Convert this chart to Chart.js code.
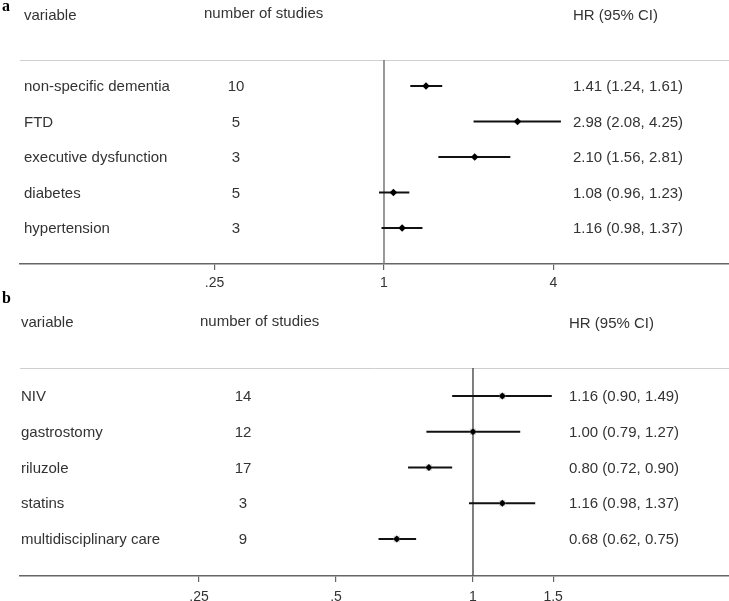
<!DOCTYPE html>
<html>
<head>
<meta charset="utf-8">
<script src="https://cdn.jsdelivr.net/npm/chart.js@4.4.1/dist/chart.umd.min.js"></script>
<style>
  html, body { margin: 0; padding: 0; background: #fff; }
  #wrap { position: relative; width: 729px; height: 601px; }
  canvas { position: absolute; left: 0; top: 0; }
</style>
</head>
<body>
<div id="wrap">
  <canvas id="chartA" width="729" height="601"></canvas>
  <canvas id="chartB" width="729" height="601"></canvas>
</div>
<script>
// ---- Panel a data ----
const variablesA = ['non-specific dementia', 'FTD', 'executive dysfunction', 'diabetes', 'hypertension'];
const studiesA = [10, 5, 3, 5, 3];
const hrA = [1.41, 2.98, 2.10, 1.08, 1.16];
const lowA = [1.24, 2.08, 1.56, 0.96, 0.98];
const highA = [1.61, 4.25, 2.81, 1.23, 1.37];
const tickValsA = [0.25, 1, 4];
const tickLabelsA = ['.25', '1', '4'];

// ---- Panel b data ----
const variablesB = ['NIV', 'gastrostomy', 'riluzole', 'statins', 'multidisciplinary care'];
const studiesB = [14, 12, 17, 3, 9];
const hrB = [1.16, 1.00, 0.80, 1.16, 0.68];
const lowB = [0.90, 0.79, 0.72, 0.98, 0.62];
const highB = [1.49, 1.27, 0.90, 1.37, 0.75];
const tickValsB = [0.25, 0.5, 1, 1.5];
const tickLabelsB = ['.25', '.5', '1', '1.5'];

const headers = ['variable', 'number of studies', 'HR (95% CI)'];

const FONT = '"Liberation Sans", Arial, sans-serif';
const TEXT = '#333';

function fmt(v) { return v.toFixed(2); }

function makeForest(id, o) {
  const datasets = [];
  datasets.push({
    type: 'scatter',
    data: o.hr.map((v, i) => ({ x: v, y: i })),
    pointStyle: 'rectRot',
    pointRadius: o.pointRadius,
    backgroundColor: '#000',
    borderColor: '#000',
    borderWidth: 0,
    order: 0
  });
  if (o.boxes) {
    datasets.push({
      type: 'scatter',
      data: o.hr.map((v, i) => ({ x: v, y: i })),
      pointStyle: 'rect',
      pointRadius: 4.5,
      backgroundColor: '#d6d6d6',
      borderWidth: 0,
      order: 1
    });
  }
  o.low.forEach((lo, i) => {
    datasets.push({
      type: 'line',
      data: [{ x: lo, y: i }, { x: o.high[i], y: i }],
      borderColor: '#111',
      borderWidth: 2,
      pointRadius: 0,
      fill: false,
      order: 2
    });
  });

  const textPlugin = {
    id: 'forestText_' + id,
    beforeDatasetsDraw(chart) {
      const ctx = chart.ctx, ca = chart.chartArea, xs = chart.scales.x;
      ctx.save();
      // separator line
      ctx.strokeStyle = '#cfcfcf';
      ctx.lineWidth = 1;
      ctx.beginPath();
      ctx.moveTo(ca.left, ca.top + 0.5);
      ctx.lineTo(ca.right, ca.top + 0.5);
      ctx.stroke();
      // null line at HR = 1
      const x1 = xs.getPixelForValue(1);
      ctx.strokeStyle = o.nullColor;
      ctx.lineWidth = 1.5;
      ctx.beginPath();
      ctx.moveTo(x1, ca.top);
      ctx.lineTo(x1, ca.bottom);
      ctx.stroke();
      ctx.restore();
    },
    afterDraw(chart) {
      const ctx = chart.ctx, ys = chart.scales.y;
      ctx.save();
      // panel letter
      ctx.fillStyle = '#000';
      ctx.font = 'bold 16px "Liberation Serif", "DejaVu Serif", serif';
      ctx.textBaseline = 'middle';
      ctx.textAlign = 'left';
      ctx.fillText(o.letter, o.letterX, o.letterY);
      // headers
      ctx.font = '15px ' + FONT;
      ctx.fillStyle = TEXT;
      ctx.fillText(headers[0], o.varX, o.headY[0]);
      ctx.fillText(headers[1], o.headNumX, o.headY[1]);
      ctx.fillText(headers[2], o.hrX, o.headY[2]);
      // rows
      o.vars.forEach((name, i) => {
        const y = ys.getPixelForValue(i) + 1;
        ctx.textAlign = 'left';
        ctx.fillText(name, o.varX, y);
        ctx.textAlign = 'center';
        ctx.fillText(String(o.studies[i]), o.numX, y);
        ctx.textAlign = 'left';
        ctx.fillText(fmt(o.hr[i]) + ' (' + fmt(o.low[i]) + ', ' + fmt(o.high[i]) + ')', o.hrX, y);
      });
      ctx.restore();
    }
  };

  return new Chart(document.getElementById(id), {
    data: { datasets },
    options: {
      responsive: false,
      animation: false,
      devicePixelRatio: 1,
      layout: { padding: o.padding, autoPadding: false },
      plugins: { legend: { display: false }, tooltip: { enabled: false } },
      scales: {
        x: {
          type: 'logarithmic',
          position: 'bottom',
          min: o.xMin,
          max: o.xMax,
          afterBuildTicks(scale) { scale.ticks = o.tickVals.map(v => ({ value: v })); },
          afterFit(scale) { scale.height = o.axisHeight; },
          ticks: {
            autoSkip: false,
            maxRotation: 0,
            padding: o.tickPad,
            color: TEXT,
            font: { family: FONT, size: 14 },
            callback: (v, i) => o.tickLabels[i]
          },
          grid: { drawOnChartArea: false, drawTicks: true, tickLength: 6, color: '#666', lineWidth: 1.2 },
          border: { display: true, color: '#666', width: 1.5 }
        },
        y: {
          type: 'linear',
          display: false,
          reverse: true,
          min: o.yMin,
          max: o.yMax
        }
      }
    },
    plugins: [textPlugin]
  });
}

makeForest('chartA', {
  vars: variablesA, studies: studiesA, hr: hrA, low: lowA, high: highA,
  tickVals: tickValsA, tickLabels: tickLabelsA,
  pointRadius: 3.8, boxes: false, nullColor: '#777',
  padding: { left: 20, right: 0, top: 60, bottom: 301 },
  axisHeight: 36, tickPad: 5,
  xMin: Math.pow(2, -4.295), xMax: Math.pow(2, 4.071),
  yMin: -0.732, yMax: 5.014,
  letter: 'a', letterX: 2, letterY: 7,
  varX: 24, numX: 236, hrX: 573, headNumX: 204, headY: [16, 14, 16]
});

makeForest('chartB', {
  vars: variablesB, studies: studiesB, hr: hrB, low: lowB, high: highB,
  tickVals: tickValsB, tickLabels: tickLabelsB,
  pointRadius: 3.6, boxes: true, nullColor: '#555',
  padding: { left: 20, right: 0, top: 368, bottom: 0 },
  axisHeight: 25, tickPad: 7,
  xMin: Math.pow(2, -3.307), xMax: Math.pow(2, 1.869),
  yMin: -0.783, yMax: 5.035,
  letter: 'b', letterX: 2, letterY: 299,
  varX: 21, numX: 243, hrX: 569, headNumX: 200, headY: [323, 322, 324]
});
</script>
</body>
</html>
